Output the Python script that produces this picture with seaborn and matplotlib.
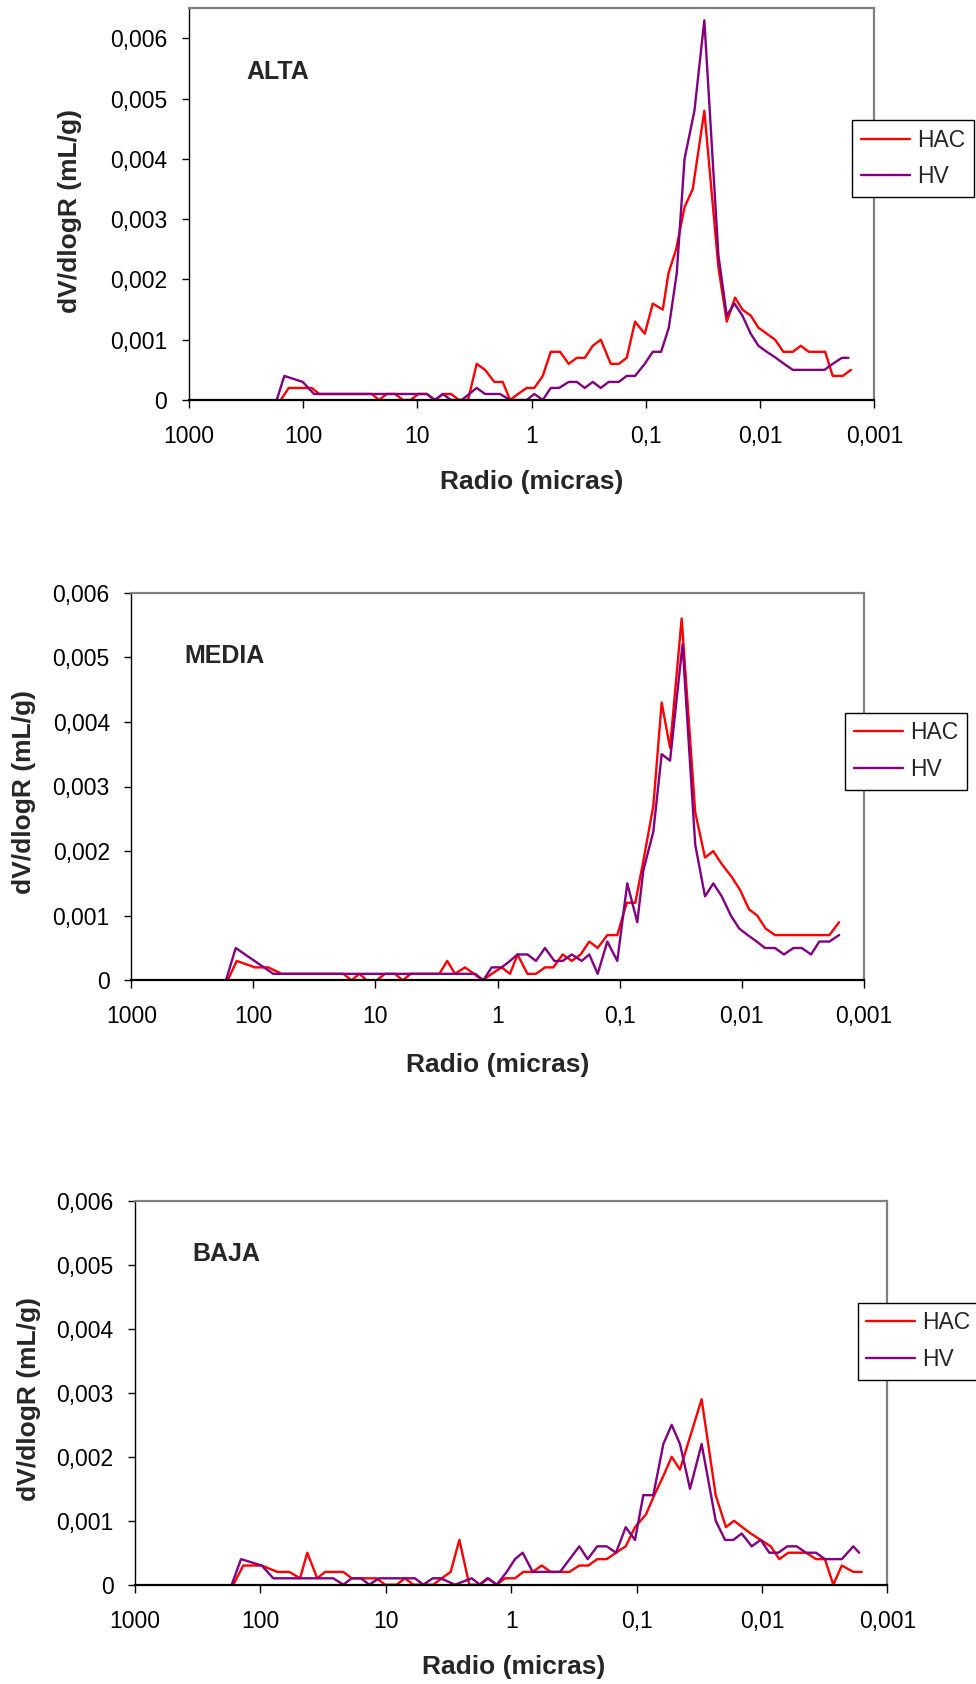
import numpy as np
import pandas as pd
import matplotlib
matplotlib.use("Agg")
import matplotlib.pyplot as plt
from matplotlib.ticker import FixedLocator, FixedFormatter, NullLocator
import seaborn as sns

# ---------------- data: pore radius (micras) and dV/dlogR (mL/g) ----------------
# ALTA
radio_alta_hac = [156.4, 133.1, 83.75, 71.86, 25.01, 21.59, 18.49, 15.64, 13.31, 11.44,
                  9.78, 8.26, 6.99, 5.95, 5.06, 4.31, 3.59, 3.02, 2.55, 2.116,
                  1.786, 1.542, 1.313, 1.102, 0.945, 0.798, 0.679, 0.563, 0.473, 0.402,
                  0.342, 0.2914, 0.248, 0.2028, 0.1726, 0.147, 0.1243, 0.1022, 0.087, 0.0711,
                  0.0635, 0.0544, 0.0459, 0.0389, 0.0308, 0.0232, 0.0196, 0.01658, 0.0143, 0.0121,
                  0.01036, 0.00876, 0.0074, 0.00627, 0.00519, 0.00441, 0.00376, 0.0027, 0.00232, 0.00189,
                  0.00161]
dv_alta_hac = [0, 0.0002, 0.0002, 0.0001, 0.0001, 0, 0.0001, 0.0001, 0, 0,
               0.0001, 0.0001, 0, 0.0001, 0.0001, 0, 0, 0.0006, 0.0005, 0.0003,
               0.0003, 0, 0.0001, 0.0002, 0.0002, 0.0004, 0.0008, 0.0008, 0.0006, 0.0007,
               0.0007, 0.0009, 0.0010, 0.0006, 0.0006, 0.0007, 0.0013, 0.0011, 0.0016, 0.0015,
               0.0021, 0.0025, 0.0032, 0.0035, 0.0048, 0.0022, 0.0013, 0.0017, 0.0015, 0.0014,
               0.0012, 0.0011, 0.0010, 0.0008, 0.0008, 0.0009, 0.0008, 0.0008, 0.0004, 0.0004,
               0.0005]
radio_alta_hv = [169.5, 145.4, 100.4, 80.0, 8.26, 6.99, 5.98, 5.06, 4.08, 3.02,
                 2.55, 1.886, 1.542, 1.102, 0.945, 0.798, 0.679, 0.575, 0.473, 0.402,
                 0.342, 0.2914, 0.248, 0.2112, 0.1726, 0.147, 0.1243, 0.1022, 0.087, 0.0736,
                 0.063, 0.0537, 0.0459, 0.0376, 0.0308, 0.0232, 0.0196, 0.0168, 0.0143, 0.0121,
                 0.01036, 0.00876, 0.0073, 0.00618, 0.00519, 0.00274, 0.00232, 0.00193, 0.00169]
dv_alta_hv = [0, 0.0004, 0.0003, 0.0001, 0.0001, 0, 0.0001, 0, 0, 0.0002,
              0.0001, 0.0001, 0, 0, 0.0001, 0, 0.0002, 0.0002, 0.0003, 0.0003,
              0.0002, 0.0003, 0.0002, 0.0003, 0.0003, 0.0004, 0.0004, 0.0006, 0.0008, 0.0008,
              0.0012, 0.0021, 0.0040, 0.0048, 0.0063, 0.0024, 0.0014, 0.0016, 0.0014, 0.0011,
              0.0009, 0.0008, 0.0007, 0.0006, 0.0005, 0.0005, 0.0006, 0.0007, 0.0007]

# MEDIA
radio_media_hac = [162.3, 137.0, 96.96, 75.45, 58.6, 18.34, 15.65, 13.56, 11.79, 9.77,
                   8.35, 6.92, 5.98, 5.14, 3.00, 2.58, 2.23, 1.846, 1.558, 1.322,
                   1.116, 0.924, 0.790, 0.686, 0.568, 0.484, 0.408, 0.349, 0.2924, 0.2467,
                   0.2083, 0.1771, 0.1511, 0.126, 0.1044, 0.0874, 0.0743, 0.0631, 0.0529, 0.0452,
                   0.0386, 0.031, 0.024, 0.01996, 0.01707, 0.01457, 0.01206, 0.01031, 0.00871, 0.00744,
                   0.00635, 0.00533, 0.00191, 0.00159]
dv_media_hac = [0, 0.0003, 0.0002, 0.0002, 0.0001, 0.0001, 0, 0.0001, 0, 0,
                0.0001, 0.0001, 0, 0.0001, 0.0001, 0.0003, 0.0001, 0.0002, 0.0001, 0,
                0.0001, 0.0002, 0.0001, 0.0004, 0.0001, 0.0001, 0.0002, 0.0002, 0.0004, 0.0003,
                0.0004, 0.0006, 0.0005, 0.0007, 0.0007, 0.0012, 0.0012, 0.0019, 0.0027, 0.0043,
                0.0036, 0.0056, 0.0026, 0.0019, 0.0020, 0.0018, 0.0016, 0.0014, 0.0011, 0.0010,
                0.0008, 0.0007, 0.0007, 0.0009]
radio_media_hv = [167.6, 139.5, 68.6, 1.52, 1.307, 1.116, 0.924, 0.79, 0.686, 0.568,
                  0.484, 0.408, 0.3425, 0.2924, 0.2467, 0.2043, 0.1771, 0.1511, 0.126, 0.1044,
                  0.0865, 0.0716, 0.0639, 0.0529, 0.0452, 0.0386, 0.0305, 0.024, 0.01996, 0.01707,
                  0.01457, 0.01223, 0.01045, 0.00892, 0.00753, 0.00644, 0.00533, 0.0045, 0.00377, 0.00322,
                  0.0027, 0.00231, 0.00191, 0.00159]
dv_media_hv = [0, 0.0005, 0.0001, 0.0001, 0, 0.0002, 0.0002, 0.0003, 0.0004, 0.0004,
               0.0003, 0.0005, 0.0003, 0.0003, 0.0004, 0.0003, 0.0004, 0.0001, 0.0006, 0.0003,
               0.0015, 0.0009, 0.0017, 0.0023, 0.0035, 0.0034, 0.0052, 0.0021, 0.0013, 0.0015,
               0.0013, 0.0010, 0.0008, 0.0007, 0.0006, 0.0005, 0.0005, 0.0004, 0.0005, 0.0005,
               0.0004, 0.0006, 0.0006, 0.0007]

# BAJA
radio_baja_hac = [164.5, 136.9, 97.6, 73.3, 58.8, 48.3, 42.3, 35.2, 30.5, 21.82,
                  18.7, 11.82, 10.15, 8.19, 7.03, 6.04, 4.18, 3.58, 3.04, 2.59,
                  2.16, 1.796, 1.551, 1.305, 1.121, 0.933, 0.801, 0.674, 0.571, 0.484,
                  0.344, 0.2863, 0.2428, 0.2057, 0.1731, 0.146, 0.1221, 0.103, 0.0841, 0.0723,
                  0.0612, 0.0525, 0.0451, 0.0303, 0.0234, 0.0194, 0.01672, 0.01436, 0.0123, 0.01024,
                  0.00852, 0.00728, 0.00617, 0.00446, 0.00371, 0.00315, 0.0027, 0.00231, 0.00187, 0.0016]
dv_baja_hac = [0, 0.0003, 0.0003, 0.0002, 0.0002, 0.0001, 0.0005, 0.0001, 0.0002, 0.0002,
               0.0001, 0.0001, 0, 0, 0.0001, 0, 0, 0.0001, 0.0002, 0.0007,
               0, 0, 0.0001, 0, 0.0001, 0.0001, 0.0002, 0.0002, 0.0003, 0.0002,
               0.0002, 0.0003, 0.0003, 0.0004, 0.0004, 0.0005, 0.0006, 0.0009, 0.0011, 0.0014,
               0.0017, 0.0020, 0.0018, 0.0029, 0.0014, 0.0009, 0.0010, 0.0009, 0.0008, 0.0007,
               0.0006, 0.0004, 0.0005, 0.0005, 0.0004, 0.0004, 0, 0.0003, 0.0002, 0.0002]
radio_baja_hv = [169.4, 142.8, 97.6, 78.9, 26.22, 21.82, 18.7, 15.77, 13.54, 11.33,
                 5.85, 5.02, 4.23, 3.65, 2.81, 2.065, 1.774, 1.522, 1.305, 1.086,
                 0.933, 0.81, 0.674, 0.408, 0.2863, 0.2455, 0.2057, 0.1731, 0.146, 0.1221,
                 0.103, 0.0884, 0.0736, 0.0612, 0.0525, 0.0451, 0.0375, 0.0303, 0.0234, 0.0197,
                 0.01694, 0.01452, 0.01208, 0.01024, 0.00875, 0.00741, 0.00628, 0.00529, 0.00446, 0.00371,
                 0.00315, 0.00231, 0.00187, 0.00168]
dv_baja_hv = [0, 0.0004, 0.0003, 0.0001, 0.0001, 0, 0.0001, 0.0001, 0, 0.0001,
              0.0001, 0, 0.0001, 0.0001, 0, 0.0001, 0, 0.0001, 0, 0.0002,
              0.0004, 0.0005, 0.0002, 0.0002, 0.0006, 0.0004, 0.0006, 0.0006, 0.0005, 0.0009,
              0.0007, 0.0014, 0.0014, 0.0022, 0.0025, 0.0022, 0.0015, 0.0022, 0.0010, 0.0007,
              0.0007, 0.0008, 0.0006, 0.0007, 0.0005, 0.0005, 0.0006, 0.0006, 0.0005, 0.0005,
              0.0004, 0.0004, 0.0006, 0.0005]

series_names = ["HAC", "HV"]
series_colors = {"HAC": "#FF0000", "HV": "#800080"}
panel_titles = ["ALTA", "MEDIA", "BAJA"]

x_tick_values = [1000, 100, 10, 1, 0.1, 0.01, 0.001]
x_tick_labels = ["1000", "100", "10", "1", "0,1", "0,01", "0,001"]
y_tick_values = [0, 0.001, 0.002, 0.003, 0.004, 0.005, 0.006]
y_tick_labels = ["0", "0,001", "0,002", "0,003", "0,004", "0,005", "0,006"]

x_label = "Radio (micras)"
y_label = "dV/dlogR (mL/g)"

# ---------------- figure ----------------
sns.set_style("white")
plt.rcParams["font.family"] = ["Liberation Sans", "DejaVu Sans"]

W, H = 976, 1684
fig = plt.figure(figsize=(W / 100, H / 100), dpi=100)


def fx(px):
    return px / W


def fy(py):
    return 1 - py / H


# plot-area boxes in pixels: left, top, right, bottom
boxes = [(188.6, 8.3, 874.5, 400.0),
         (131.3, 592.7, 863.7, 980.3),
         (135.0, 1201.0, 887.4, 1584.7)]
y_tops = [0.0065, 0.006, 0.006]
title_pos = [(246.7, 72.3), (184.2, 656.2), (192.3, 1254.3)]
ylabel_pos = [(69.5, 211.0), (24.0, 792.5), (29.0, 1398.8)]
xlabel_pos = [(531.5, 481.7), (497.8, 1065.0), (513.4, 1666.7)]
legend_pos = [(852.3, 120.0), (845.0, 712.7), (857.5, 1302.7)]

panel_data = [
    (radio_alta_hac, dv_alta_hac, radio_alta_hv, dv_alta_hv),
    (radio_media_hac, dv_media_hac, radio_media_hv, dv_media_hv),
    (radio_baja_hac, dv_baja_hac, radio_baja_hv, dv_baja_hv),
]

for i, (r_hac, v_hac, r_hv, v_hv) in enumerate(panel_data):
    l, t, r, b = boxes[i]
    ax = fig.add_axes([fx(l), fy(b), (r - l) / W, (b - t) / H])

    df = pd.concat([
        pd.DataFrame({"Radio": r_hac, "dV": v_hac, "Serie": "HAC"}),
        pd.DataFrame({"Radio": r_hv, "dV": v_hv, "Serie": "HV"}),
    ], ignore_index=True)

    sns.lineplot(data=df, x="Radio", y="dV", hue="Serie", hue_order=series_names,
                 palette=series_colors, estimator=None, sort=True,
                 linewidth=1.7, ax=ax, legend=True)

    ax.set_xscale("log")
    ax.set_xlim(1000, 0.001)
    ax.set_ylim(0, y_tops[i])
    ax.xaxis.set_major_locator(FixedLocator(x_tick_values))
    ax.xaxis.set_major_formatter(FixedFormatter(x_tick_labels))
    ax.xaxis.set_minor_locator(NullLocator())
    ax.yaxis.set_major_locator(FixedLocator(y_tick_values))
    ax.yaxis.set_major_formatter(FixedFormatter(y_tick_labels))
    ax.yaxis.set_minor_locator(NullLocator())
    ax.grid(False)
    ax.set_xlabel("")
    ax.set_ylabel("")

    ax.tick_params(axis="x", direction="out", length=6, width=1, pad=12,
                   labelsize=16.5, colors="black", bottom=True)
    ax.tick_params(axis="y", direction="out", length=5, width=1, pad=10.5,
                   labelsize=16.5, colors="black", left=True)

    for side in ("top", "right"):
        ax.spines[side].set_color("#808080")
        ax.spines[side].set_linewidth(1.6)
    ax.spines["left"].set_color("black")
    ax.spines["left"].set_linewidth(1.0)
    ax.spines["bottom"].set_color("black")
    ax.spines["bottom"].set_linewidth(1.6)

    handles, labels = ax.get_legend_handles_labels()
    lx, ly = legend_pos[i]
    leg = ax.legend(handles, labels, loc="upper left",
                    bbox_to_anchor=(fx(lx), fy(ly)), bbox_transform=fig.transFigure,
                    borderaxespad=0, frameon=True, fancybox=False, shadow=False,
                    framealpha=1, edgecolor="black", fontsize=16.5,
                    handlelength=2.15, handletextpad=0.3, labelspacing=0.6,
                    borderpad=0.38)
    leg.get_frame().set_linewidth(1.0)

    tx, ty = title_pos[i]
    fig.text(fx(tx), fy(ty), panel_titles[i], ha="left", va="center",
             fontsize=18, fontweight="bold")
    yx, yy = ylabel_pos[i]
    fig.text(fx(yx), fy(yy), y_label, ha="center", va="center", rotation=90,
             fontsize=19, fontweight="bold")
    xx, xy = xlabel_pos[i]
    fig.text(fx(xx), fy(xy), x_label, ha="center", va="center",
             fontsize=19, fontweight="bold")

fig.savefig("out.png", dpi=100, facecolor="white")
